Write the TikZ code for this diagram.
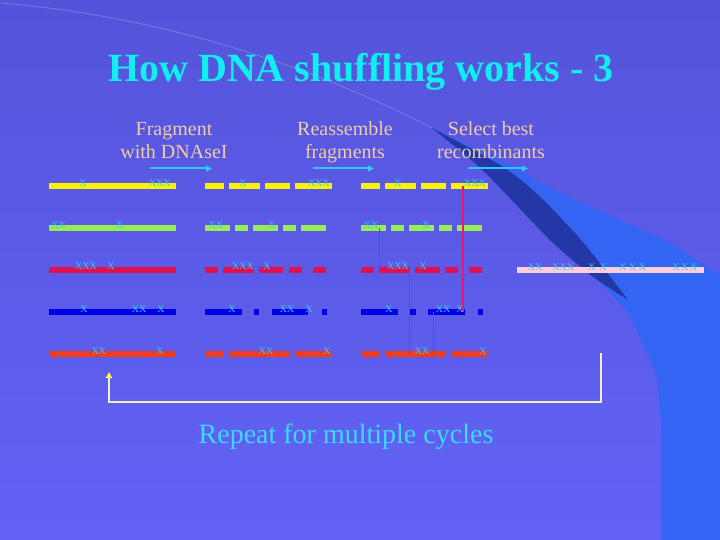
\documentclass[tikz,border=0pt]{standalone}
\usepackage{fontspec}
\setmainfont{Liberation Serif}
\usetikzlibrary{arrows.meta}
\definecolor{bgtop}{HTML}{5454DA}
\definecolor{bgbot}{HTML}{6262F6}
\definecolor{bright}{HTML}{3464F4}
\definecolor{wedge}{HTML}{1E2A8C}
\definecolor{titlec}{HTML}{10EEF0}
\definecolor{subc}{HTML}{F2CCA4}
\definecolor{arrc}{HTML}{30C8F8}
\definecolor{repc}{HTML}{38DCF8}
\definecolor{markc}{HTML}{3CC8F0}
\definecolor{cyel}{HTML}{F8F400}
\definecolor{cgrn}{HTML}{98EE50}
\definecolor{cred}{HTML}{E4104C}
\definecolor{cblu}{HTML}{0000E8}
\definecolor{corg}{HTML}{F03C1C}
\definecolor{cpnk}{HTML}{FCD0D8}
\definecolor{xline}{HTML}{E8186E}
\definecolor{loopc}{HTML}{F4F0B8}
\definecolor{tipc}{HTML}{FFFF40}
\tikzset{
  bar/.style={line width=6pt, line cap=butt},
  mk/.style={font=\fontsize{10}{10}\selectfont, text=markc, inner sep=0pt, anchor=base},
  sub/.style={font=\fontsize{20}{23}\selectfont, text=subc, align=center, inner sep=0pt},
  steparrow/.style={draw=arrc, line width=2pt, -{Triangle[length=6pt,width=6pt]}},
  xover/.style={draw=xline, line width=1.1pt},
  loopline/.style={draw=loopc, line width=1.6pt}
}
\begin{document}
\begin{tikzpicture}[x=1pt,y=-1pt]
\useasboundingbox (0,0) rectangle (720,540);
% background
\shade[top color=bgtop, bottom color=bgbot] (0,0) rectangle (720,540);
\fill[bright] plot[smooth] coordinates {(432,128) (477,165) (505,193) (551,241) (592,276) (625,310) (643,345) (657,380) (661,430)} -- (661,540) -- (720,540) -- (720,276) -- plot[smooth] coordinates {(720,276) (666,241) (560,193) (500,160) (432,128)} -- cycle;
\fill[wedge, opacity=0.75] plot[smooth] coordinates {(432,128) (477,165) (505,193) (551,241) (592,276) (628,300)} -- plot[smooth] coordinates {(628,300) (582,241) (536,193) (500,165) (432,128)} -- cycle;
\draw[white, opacity=0.22, line width=0.8pt] (0,3) .. controls (150,15) and (300,60) .. (432,128);

% title
\node[font=\fontsize{40}{44}\selectfont\bfseries, text=titlec, inner sep=0pt, anchor=base] (title) at (361,82) {How DNA shuffling works - 3};

% step labels
\node[sub, anchor=base] (s1) at (174,159) {Fragment\\with DNAseI};
\node[sub, anchor=base] (s2) at (345,159) {Reassemble\\fragments};
\node[sub, anchor=base] (s3) at (491,159) {Select best\\recombinants};
\coordinate (a1s) at (150,168.5); \coordinate (a1e) at (212,168.5);
\coordinate (a2s) at (313,168.5); \coordinate (a2e) at (374,168.5);
\coordinate (a3s) at (468,168.5); \coordinate (a3e) at (528,168.5);
\draw[steparrow] (a1s) -- (a1e);
\draw[steparrow] (a2s) -- (a2e);
\draw[steparrow] (a3s) -- (a3e);

% column 1: parent genes
\draw[bar, cyel] (49,186) -- (176,186);
\draw[bar, cgrn] (49,228) -- (176,228);
\draw[bar, cred] (49,269.5) -- (176,269.5);
\draw[bar, cblu] (49,312) -- (176,312);
\draw[bar, corg] (49,354) -- (176,354);

% column 2: fragments
\foreach \a/\b in {205/224,229/260,265/290,295/332} \draw[bar, cyel] (\a,186) -- (\b,186);
\foreach \a/\b in {205/230,235/248,253/278,283/296,301/326} \draw[bar, cgrn] (\a,228) -- (\b,228);
\foreach \a/\b in {205/218,223/254,259/283,289/302,313/326} \draw[bar, cred] (\a,269.5) -- (\b,269.5);
\foreach \a/\b in {205/242,254/259,272/308,322/327} \draw[bar, cblu] (\a,312) -- (\b,312);
\foreach \a/\b in {205/223,229/289,295/332} \draw[bar, corg] (\a,354) -- (\b,354);

% column 3: reassembled
\foreach \a/\b in {361/380,385/416,421/446,451/488} \draw[bar, cyel] (\a,186) -- (\b,186);
\foreach \a/\b in {361/386,391/404,409/434,439/452,457/482} \draw[bar, cgrn] (\a,228) -- (\b,228);
\foreach \a/\b in {361/374,379/410,415/440,445/458,469/482} \draw[bar, cred] (\a,269.5) -- (\b,269.5);
\foreach \a/\b in {361/398,410/416,428/465,478/483} \draw[bar, cblu] (\a,312) -- (\b,312);
\foreach \a/\b in {361/380,385/446,451/487} \draw[bar, corg] (\a,354) -- (\b,354);

% recombinant
\draw[bar, cpnk, line width=5.4pt] (517,270) -- (704,270);

% crossover lines
\coordinate (x1a) at (463,186); \coordinate (x1b) at (463,312);
\coordinate (x2a) at (379.5,228); \coordinate (x2b) at (379.5,269.5);
\coordinate (x3a) at (409.5,269.5); \coordinate (x3b) at (409.5,354);
\coordinate (x4a) at (433.5,312); \coordinate (x4b) at (433.5,354);
\draw[xover] (x1a) -- (x1b);
\draw[xover] (x2a) -- (x2b);
\draw[xover] (x3a) -- (x3b);
\draw[xover] (x4a) -- (x4b);

% marks
\foreach \x/\t [count=\i] in {83/X,160/XXX,243/X,319/XXX,398/X,475/XXX} \node[mk] (my\i) at (\x,186.3) {\t};
\foreach \x/\t [count=\i] in {59/XX,120/X,216/XX,272/X,371/XX,426/X} \node[mk] (mg\i) at (\x,228.3) {\t};
\foreach \x/\t [count=\i] in {86/XXX,111/X,243/XXX,267/X,398/XXX,423/X} \node[mk] (mr\i) at (\x,269.8) {\t};
\foreach \x/\t [count=\i] in {84/X,139/XX,161/X,232/X,287/XX,309/X,389/X,443/XX,460/X} \node[mk] (mb\i) at (\x,312.5) {\t};
\foreach \x/\t [count=\i] in {99/XX,160/X,266/XX,327/X,422/XX,483/X} \node[mk] (mo\i) at (\x,354.3) {\t};
\foreach \x/\t [count=\i] in {535/XX,563.3/XXX,597.5/{X\hspace{4pt}X},632.7/{X\hspace{2.6pt}X\hspace{2.6pt}X},685/{X\hspace{1.6pt}X\hspace{1.6pt}X}} \node[mk] (mp\i) at (\x,270.5) {\t};

% repeat loop
\coordinate (ls) at (601,353);
\coordinate (lb) at (601,402);
\coordinate (le) at (109,372);
\draw[loopline, -{Triangle[length=6pt,width=6pt,fill=tipc,color=tipc]}] (ls) -- (lb) -| (le);

\node[font=\fontsize{28}{30}\selectfont, text=repc, inner sep=0pt, anchor=base] (rep) at (346,443) {Repeat for multiple cycles};
\end{tikzpicture}
\end{document}
